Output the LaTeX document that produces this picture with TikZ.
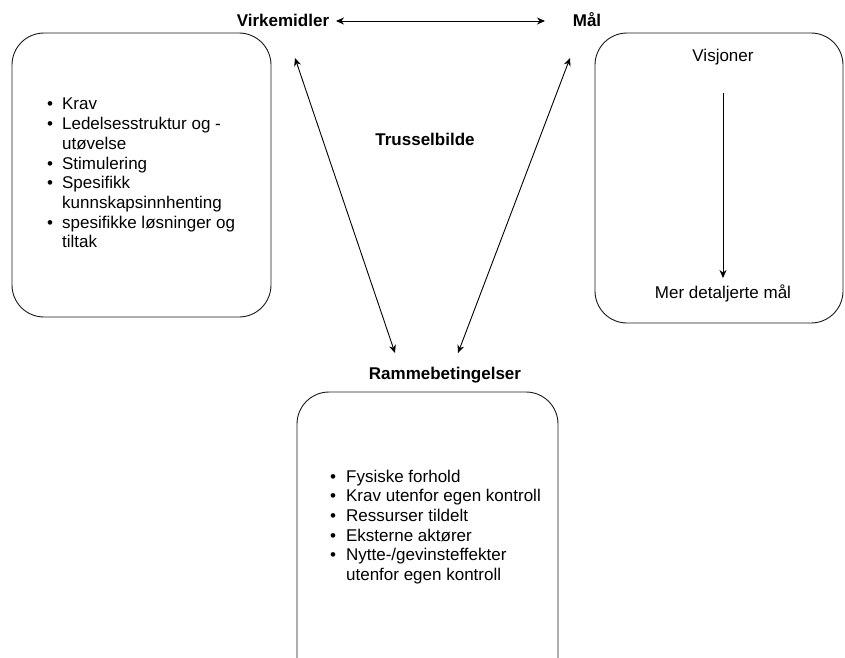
\documentclass[tikz,border=0pt]{standalone}
\usepackage{fontspec}
\setmainfont{Liberation Sans}
\usetikzlibrary{arrows.meta}
\begin{document}
\begin{tikzpicture}[x=1pt,y=-1pt,
  every node/.style={font=\fontsize{17}{19.7}\selectfont, inner sep=0pt},
  title/.style={font=\fontsize{17}{19.7}\selectfont\bfseries},
  box/.style={draw=black!90, line width=0.9pt, rounded corners=32pt},
  link/.style={draw=black, line width=0.9pt, {Stealth[length=8pt,width=7pt]}-{Stealth[length=8pt,width=7pt]}},
  oneway/.style={draw=black, line width=0.9pt, -{Stealth[length=8pt,width=7pt]}}]
\useasboundingbox (0,0) rectangle (845,657);
\clip (0,0) rectangle (845,657);
% boxes
\draw[box] (12,33) rectangle (271,317);
\draw[box] (595,33) rectangle (843,323);
\draw[box] (297,392) rectangle (558,720);
% titles
\node[title] (vir) at (283,20) {Virkemidler};
\node[title] (mal) at (587,20) {Mål};
\node[title] (tru) at (425,139) {Trusselbilde};
\node[title] (ram) at (445,375) {Rammebetingelser};
% connectors
\coordinate (a1) at (336,21);
\coordinate (a2) at (545,21);
\coordinate (d1) at (295,58);
\coordinate (d2) at (395,353);
\coordinate (d3) at (570,58);
\coordinate (d4) at (458,353);
\draw[link] (a1) -- (a2);
\draw[link] (d1) -- (d2);
\draw[link] (d3) -- (d4);
% right box content
\node (vis) at (723,57) {Visjoner};
\node (mdm) at (723,293) {Mer detaljerte mål};
\draw[oneway] ([yshift=-36pt]vis.center) -- ([yshift=15pt]mdm.center);
% left list
\node[anchor=north west, align=left] (vlist) at (47,96) {%
\begin{tabular}{@{}l@{\hspace{9pt}}l@{}}
\textbullet & Krav\\
\textbullet & Ledelsesstruktur og -\\
 & utøvelse\\
\textbullet & Stimulering\\
\textbullet & Spesifikk\\
 & kunnskapsinnhenting\\
\textbullet & spesifikke løsninger og\\
 & tiltak
\end{tabular}};
% bottom list
\node[anchor=north west, align=left] (rlist) at (330,468) {%
\begin{tabular}{@{}l@{\hspace{10pt}}l@{}}
\textbullet & Fysiske forhold\\
\textbullet & Krav utenfor egen kontroll\\
\textbullet & Ressurser tildelt\\
\textbullet & Eksterne aktører\\
\textbullet & Nytte-/gevinsteffekter\\
 & utenfor egen kontroll
\end{tabular}};
\end{tikzpicture}
\end{document}
